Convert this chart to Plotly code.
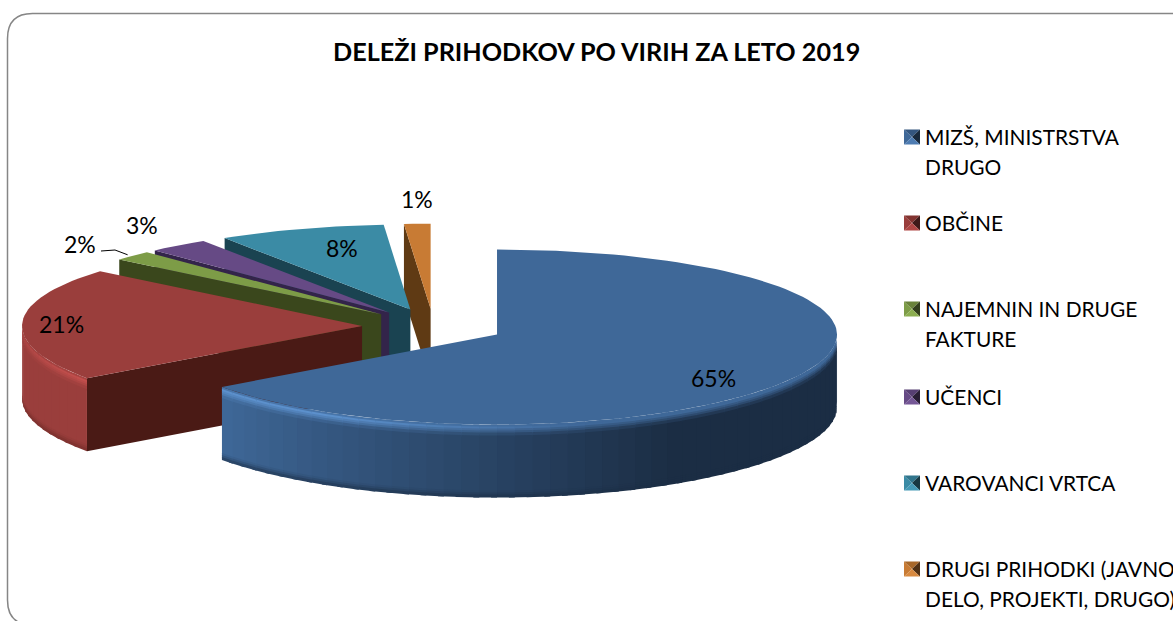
import math
import plotly.graph_objects as go

# ---- data ----
categories = ["MIZŠ, MINISTRSTVA DRUGO", "OBČINE", "NAJEMNIN IN DRUGE FAKTURE",
              "UČENCI", "VAROVANCI VRTCA", "DRUGI PRIHODKI (JAVNO DELO, PROJEKTI, DRUGO)"]
values = [65, 21, 1.9, 2.9, 7.95, 1.25]
value_labels = ["65%", "21%", "2%", "3%", "8%", "1%"]
legend_lines = [["MIZŠ, MINISTRSTVA", "DRUGO"], ["OBČINE"], ["NAJEMNIN IN DRUGE", "FAKTURE"],
                ["UČENCI"], ["VAROVANCI VRTCA"], ["DRUGI PRIHODKI (JAVNO", "DELO, PROJEKTI, DRUGO)"]]
title_text = "DELEŽI PRIHODKOV PO VIRIH ZA LETO 2019"

# ---- styles ----
top_colors = ["#3f6898", "#9a3e3c", "#7d9c47", "#664a85", "#3b8ba5", "#c87b34"]
wall_colors = ["#1b2d44", "#4a1a15", "#3a471c", "#33244a", "#1a4351", "#5f3a14"]
glow_colors = ["#5c90cc", "#c4504e", "#9cc058", "#8464a8", "#50aac8", "#e8984c"]
FONT = "Lato"
W, H = 1173, 621
CX, CY, RX, DEPTH, PULL = 433.4, 326.5, 340.0, 73.0, 71.4
label_xy = [(713, 378), (61, 324), (80, 244), (142, 225), (342, 248), (417, 199)]
legend_y = [136, 222, 308, 396, 482, 568]
LINE_GAP = 30


def rgb(h):
    return [int(h[i:i + 2], 16) for i in (1, 3, 5)]


def mix(a, b, t):
    t = max(0.0, min(1.0, t))
    ca, cb = rgb(a), rgb(b)
    return "#%02x%02x%02x" % tuple(round(ca[i] + (cb[i] - ca[i]) * t) for i in range(3))


def ry(deg):
    return 87.5 - 2.5 * math.cos(math.radians(deg))


def polar(apex, deg):
    s, c = math.sin(math.radians(deg)), math.cos(math.radians(deg))
    return apex[0] + RX * s, apex[1] - ry(deg) * c


fig = go.Figure()


def poly(pts, color):
    fig.add_trace(go.Scatter(
        x=[p[0] for p in pts] + [pts[0][0]], y=[p[1] for p in pts] + [pts[0][1]],
        mode="lines", fill="toself", fillcolor=color,
        line=dict(color=color, width=0), hoverinfo="skip", showlegend=False))


# slice angles, clockwise from 12 o'clock
total = sum(values)
slices = []
start = 0.0
for i, v in enumerate(values):
    end = start + 360.0 * v / total
    mid = math.radians((start + end) / 2)
    apex = (CX + PULL * math.sin(mid), CY - PULL * 0.25 * math.cos(mid))
    slices.append((i, start, end, apex))
    start = end


def rim_color(i, deg, z):
    body = mix(top_colors[i], wall_colors[i], (234 - deg) / 85.0)
    if deg >= 234:
        glow = 1 - 0.7 * (deg - 234) / 36.0
    else:
        glow = max(0.0, min(1.0, (deg - 165) / 45.0))
    crest = mix(top_colors[i], glow_colors[i], glow)
    if z < 3:
        return mix(top_colors[i], crest, z / 3.0)
    if z < 11:
        return mix(crest, body, (z - 3) / 8.0)
    if z > 66:
        return mix(body, wall_colors[i], (z - 66) / 7.0 * (0.7 if i == 0 else 0.4))
    return body


z_bands = [(0, 2), (2, 4), (4, 6), (6, 8), (8, 11), (11, 66), (66, 68), (68, 70), (70, DEPTH)]

for i, a0, a1, apex in reversed(slices):
    # start wall (faces the viewer)
    c0 = polar(apex, a0)
    if a0 > 0:
        poly([c0, apex, (apex[0], apex[1] + DEPTH), (c0[0], c0[1] + DEPTH)], wall_colors[i])
    # outer rim, front half only; strips overlap so that no seams show
    lo, hi = max(a0, 90.0), min(a1, 270.0)
    if hi > lo:
        n = max(2, int((hi - lo) / 3))
        for k in range(n):
            t0 = lo + (hi - lo) * k / n
            t1 = lo + (hi - lo) * (k + 1) / n
            t1x = min(hi, t1 + 1.0)
            arc = [polar(apex, t0 + (t1x - t0) * q / 4) for q in range(5)]
            for b, (z0, z1) in enumerate(z_bands):
                col = rim_color(i, (t0 + t1) / 2, (z0 + z1) / 2)
                z1x = z1 + 1.5 if b < len(z_bands) - 1 else z1
                poly([(p[0], p[1] + z0) for p in arc] + [(p[0], p[1] + z1x) for p in reversed(arc)], col)
    # top face
    n = max(3, int((a1 - a0) / 2))
    arc = [polar(apex, a0 + (a1 - a0) * k / n) for k in range(n + 1)]
    poly([apex] + arc, top_colors[i])

# leader line of the 2% label, ending on the slice's rim
_, g0, g1, g_apex = slices[2]
g_pt = polar(g_apex, (g0 + g1) / 2)
fig.add_trace(go.Scatter(
    x=[label_xy[2][0] + 21, label_xy[2][0] + 35, g_pt[0] - 5],
    y=[label_xy[2][1] + 7, label_xy[2][1] + 6, g_pt[1] - 1],
    mode="lines", line=dict(color="#000000", width=1), hoverinfo="skip", showlegend=False))

annotations = [dict(x=596.5, y=51, xref="x", yref="y", text="<b>%s</b>" % title_text,
                    showarrow=False, font=dict(family=FONT, size=25.2, color="#000000"))]
for txt, (lx, ly) in zip(value_labels, label_xy):
    annotations.append(dict(x=lx, y=ly, xref="x", yref="y", text=txt, showarrow=False,
                            font=dict(family=FONT, size=23, color="#000000")))

# legend: bevelled swatches and text
for i, (lines, ly) in enumerate(zip(legend_lines, legend_y)):
    x0, x1, y0, y1 = 904, 920, ly - 6.5, ly + 8.5
    xm, ym = (x0 + x1) / 2, (y0 + y1) / 2
    poly([(x0, y0), (x1, y0), (xm, ym)], mix(top_colors[i], wall_colors[i], 0.3))
    poly([(x0, y0), (x0, y1), (xm, ym)], top_colors[i])
    poly([(x1, y0), (x1, y1), (xm, ym)], mix(top_colors[i], "#000000", 0.6))
    poly([(x0, y1), (x1, y1), (xm, ym)], mix(top_colors[i], glow_colors[i], 0.5))
    for j, line in enumerate(lines):
        annotations.append(dict(x=922.5, y=ly + j * LINE_GAP, xref="x", yref="y", text=line,
                                xanchor="left", showarrow=False,
                                font=dict(family=FONT, size=20.9, color="#000000")))

# rounded frame, running off the right and bottom of the page
R = 25
frame = (f"M 7.5 {13.5 + R} Q 7.5 13.5 {7.5 + R} 13.5 L 1200 13.5 L 1200 625 "
         f"L {7.5 + R} 625 Q 7.5 625 7.5 {625 - R} Z")

fig.update_layout(
    width=W, height=H, autosize=False, margin=dict(l=0, r=0, t=0, b=0),
    paper_bgcolor="#ffffff", plot_bgcolor="#ffffff", showlegend=False,
    xaxis=dict(range=[0, W], visible=False, fixedrange=True),
    yaxis=dict(range=[H, 0], visible=False, fixedrange=True),
    annotations=annotations,
    shapes=[dict(type="path", path=frame, xref="x", yref="y",
                 line=dict(color="#868686", width=1.5), layer="below")],
)
fig.write_html("out.html", config={"displayModeBar": False},
               post_script="document.body.style.margin='0';document.body.style.overflow='hidden';")
